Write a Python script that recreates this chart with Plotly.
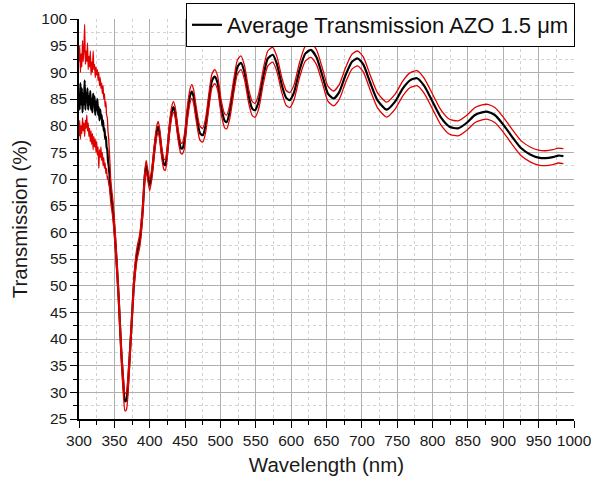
import plotly.graph_objects as go

# Wavelength grid (nm): 1 nm steps through the noisy UV part, sparser afterwards
wl_uv = list(range(300, 346))
wl_vis = [348, 352, 356, 360, 363, 365, 367, 370, 374, 378, 382, 386, 390, 393, 395, 397,
          400, 403, 407, 410, 412, 414, 417, 420, 422, 424, 428, 431, 433.5, 436, 440, 444,
          446, 449, 453, 457, 459.5, 462, 466, 471, 475, 479, 484, 488, 492, 496, 501, 506,
          509, 513, 519, 524, 529, 534, 540, 545, 549, 554, 561, 567, 574, 580, 587, 593,
          598, 604, 612, 620, 628, 636, 645, 652, 660, 668, 677, 686, 694, 702, 712, 722,
          735, 747, 758, 768, 778, 788, 800, 812, 824, 836, 848, 860, 870, 878, 888, 900,
          912, 925, 938, 950, 960, 970, 978, 985]
wavelength = wl_uv + wl_vis

# Average transmission (%)
avg_uv = [86, 83, 88, 84, 87, 82.5, 86, 84, 88.5, 83, 86, 84.5, 87, 83, 85.5, 84, 86.5, 83,
          85, 82.5, 86, 84, 85.5, 82, 84.5, 83, 85, 82, 83.5, 81, 83, 81.5, 82, 80, 81, 79,
          79.5, 77.5, 78, 76, 75.5, 73.5, 72.5, 71, 69.5, 67.5]
avg_vis = [64, 57, 48, 37, 31, 28.3, 28.5, 33, 42, 51, 56, 58.5, 64, 70.5, 72.5, 71,
           68.8, 71, 76, 79, 79.8, 78.5, 75, 72.8, 72.6, 74, 79.5, 82.5, 83.5, 82.5, 78.5, 75.8,
           75.7, 77, 82, 85.6, 86.4, 85.5, 82, 78.6, 78.2, 80, 85, 88.4, 89.2, 88, 83.5, 80.9,
           80.7, 82.5, 87.5, 91, 91.8, 90, 85.5, 83.2, 82.9, 84.5, 89.5, 92.6, 93.3, 91.5, 87.5, 85.2,
           84.8, 86.2, 90.5, 93.5, 94.2, 92.8, 89, 86, 85.1, 86.3, 89.5, 92, 92.6, 91.5, 88, 84.8,
           83, 84.5, 87, 88.5, 88.9, 87.5, 84.5, 81.5, 79.8, 79.5, 80.5, 82, 82.5, 82.6, 82, 80.2,
           78, 75.8, 74.6, 74, 73.9, 74.1, 74.4, 74.3]
average = avg_uv + avg_vis

# Upper bound of the measured spread (%)
up_uv = [92, 95, 90, 93.5, 91, 96, 92, 94.5, 99, 91.5, 94, 92, 95.5, 90.5, 93, 91, 94, 89.5,
         92, 90, 94, 90.5, 91.5, 89, 91, 89.5, 90.5, 88.5, 90, 87.5, 89, 87, 88, 86, 87.5, 85,
         86, 83.5, 84.5, 82, 81.5, 79, 77.5, 75, 72.5, 69.5]
up_vis = [66, 58.5, 49.5, 38.5, 32.5, 29.8, 30, 34.5, 43.2, 52.2, 57.2, 59.7, 65.2, 71.5, 73.5, 72,
          69.8, 72, 77, 80, 80.8, 79.5, 76, 73.8, 73.6, 75, 80.5, 83.5, 84.5, 83.5, 79.5, 76.8,
          76.7, 78.3, 83.3, 86.9, 87.7, 86.8, 83.3, 79.9, 79.5, 81.3, 86.3, 89.7, 90.5, 89.3, 84.8, 82.2,
          82, 83.8, 88.8, 92.3, 93.1, 91.3, 86.8, 84.5, 84.2, 85.9, 90.9, 94, 94.7, 92.9, 88.9, 86.6,
          86.2, 87.6, 91.9, 94.9, 95.6, 94.2, 90.4, 87.4, 86.5, 87.7, 90.9, 93.4, 94, 92.9, 89.4, 86.2,
          84.4, 85.9, 88.4, 89.9, 90.3, 88.9, 85.9, 82.9, 81.2, 80.9, 81.9, 83.4, 83.9, 84, 83.4, 81.6,
          79.4, 77.2, 76, 75.4, 75.3, 75.5, 75.8, 75.7]
upper = up_uv + up_vis

# Lower bound of the measured spread (%)
lo_uv = [78, 81, 77.5, 80, 78.5, 81.5, 79, 80.5, 78, 81, 79.5, 82, 79, 80.5, 78, 79.5, 77, 79,
         76.5, 78.5, 75.5, 78, 76, 77.5, 75, 77, 74.5, 76, 72, 75.5, 74, 76, 73.5, 75, 72.5, 74,
         72, 73, 71, 72, 70, 70.5, 69, 68.5, 67, 65.5]
lo_vis = [62.5, 55.5, 46.5, 35.5, 29.2, 26.5, 26.7, 31.2, 40.8, 49.8, 54.8, 57.3, 62.8, 69.5, 71.5, 70,
          67.8, 70, 75, 78, 78.8, 77.5, 74, 71.8, 71.6, 73, 78.5, 81.5, 82.5, 81.5, 77.5, 74.8,
          74.7, 75.7, 80.7, 84.3, 85.1, 84.2, 80.7, 77.3, 76.9, 78.7, 83.7, 87.1, 87.9, 86.7, 82.2, 79.6,
          79.4, 81.2, 86.2, 89.7, 90.5, 88.7, 84.2, 81.9, 81.6, 83.1, 88.1, 91.2, 91.9, 90.1, 86.1, 83.8,
          83.4, 84.8, 89.1, 92.1, 92.8, 91.4, 87.6, 84.6, 83.7, 84.9, 88.1, 90.6, 91.2, 90.1, 86.6, 83.4,
          81.6, 83.1, 85.6, 87.1, 87.5, 86.1, 83.1, 80.1, 78.4, 78.1, 79.1, 80.6, 81.1, 81.2, 80.6, 78.8,
          76.6, 74.4, 73.2, 72.6, 72.5, 72.7, 73, 72.9]
lower = lo_uv + lo_vis

x_ticks = list(range(300, 1001, 50))
y_ticks = list(range(25, 101, 5))

RED = "rgb(225,0,0)"
FONT = "Liberation Sans, Arial, sans-serif"

fig = go.Figure()
fig.add_trace(go.Scatter(x=wavelength, y=average, mode="lines",
                         name="Average Transmission AZO 1.5 \u03bcm",
                         line=dict(color="black", width=2.2, shape="spline", smoothing=0.6)))
for series in (upper, lower):
    fig.add_trace(go.Scatter(x=wavelength, y=series, mode="lines", showlegend=False,
                             line=dict(color=RED, width=1.3, shape="spline", smoothing=0.6)))

axis_common = dict(
    showline=True, linecolor="black", linewidth=1.5, mirror=False,
    ticks="outside", ticklen=7, tickwidth=1.2, tickcolor="black",
    showgrid=True, gridcolor="rgb(175,175,175)", gridwidth=1,
    zeroline=False, tickfont=dict(family=FONT, size=15.5, color="#1a1a1a"),
    ticklabeloverflow="allow", automargin=False,
)

fig.update_xaxes(
    range=[300, 1000], tickvals=x_ticks,
    minor=dict(dtick=25, tick0=300, ticks="outside", ticklen=4, tickcolor="black",
               showgrid=True, gridcolor="rgb(210,210,210)", griddash="dot", gridwidth=1),
    title=dict(text="Wavelength (nm)", font=dict(family=FONT, size=20.5, color="#1a1a1a"), standoff=9),
    **axis_common,
)
fig.update_yaxes(
    range=[25, 100], tickvals=y_ticks,
    minor=dict(dtick=2.5, tick0=25, ticks="outside", ticklen=4, tickcolor="black",
               showgrid=True, gridcolor="rgb(210,210,210)", griddash="dot", gridwidth=1),
    title=dict(text="Transmission (%)", font=dict(family=FONT, size=20.5, color="#1a1a1a"), standoff=8),
    **axis_common,
)

fig.update_layout(
    width=591, height=485,
    margin=dict(l=79, r=17, t=19, b=66, autoexpand=False),
    paper_bgcolor="white", plot_bgcolor="white",
    font=dict(family=FONT, color="#1a1a1a"),
    legend=dict(x=1.002, y=1.04, xanchor="right", yanchor="top",
                bgcolor="white", bordercolor="black", borderwidth=1,
                font=dict(family=FONT, size=22, color="#111"),
                itemwidth=30, tracegroupgap=0),
)

fig.write_html("out.html")
